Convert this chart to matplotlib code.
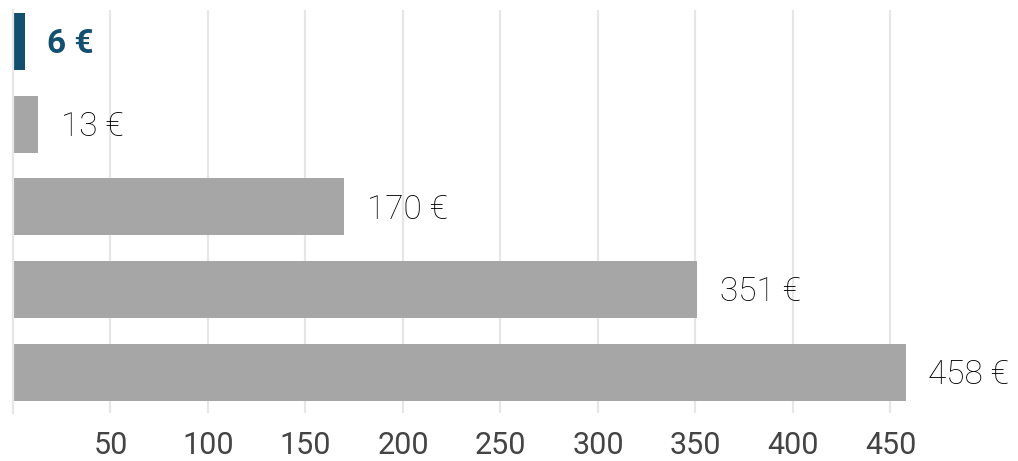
import matplotlib
matplotlib.use("Agg")
import matplotlib.pyplot as plt

# 数据
values = [6, 13, 170, 351, 458]
labels = ["6 €", "13 €", "170 €", "351 €", "458 €"]
highlight = 0
ticks = [50, 100, 150, 200, 250, 300, 350, 400, 450]

GRAY = "#a6a6a6"
BLUE = "#13506f"

plt.rcParams['font.family'] = ['Roboto', 'DejaVu Sans']

fig = plt.figure(figsize=(10.18, 4.61), dpi=100)
ax = fig.add_axes([13 / 1018, 1 - 413 / 461, 975 / 1018, 403 / 461])

ypos = list(range(len(values)))
colors = [BLUE if i == highlight else GRAY for i in ypos]
ax.barh(ypos, values, height=0.69, color=colors, zorder=2)

for i, (v, lab) in enumerate(zip(values, labels)):
    hl = i == highlight
    ax.annotate(lab, (v, i), xytext=(16, -2), textcoords='offset points',
                va='center', ha='left', fontsize=24,
                fontweight='bold' if hl else 'light',
                color=BLUE if hl else '#000000', annotation_clip=False)

ax.set_xlim(0, 500)
ax.set_ylim(4.49, -0.38)
ax.set_yticks([])
ax.set_xticks(ticks)
ax.set_xticklabels([str(t) for t in ticks])
ax.tick_params(axis='x', length=0, pad=13, labelsize=22, labelcolor='#444444')

ax.grid(axis='x', color='#e6e6e6', linewidth=1.6)
ax.set_axisbelow(True)
for s in ['top', 'right', 'bottom']:
    ax.spines[s].set_visible(False)
ax.spines['left'].set_color('#e6e6e6')
ax.spines['left'].set_linewidth(1.6)

fig.savefig("out.png", dpi=100)
